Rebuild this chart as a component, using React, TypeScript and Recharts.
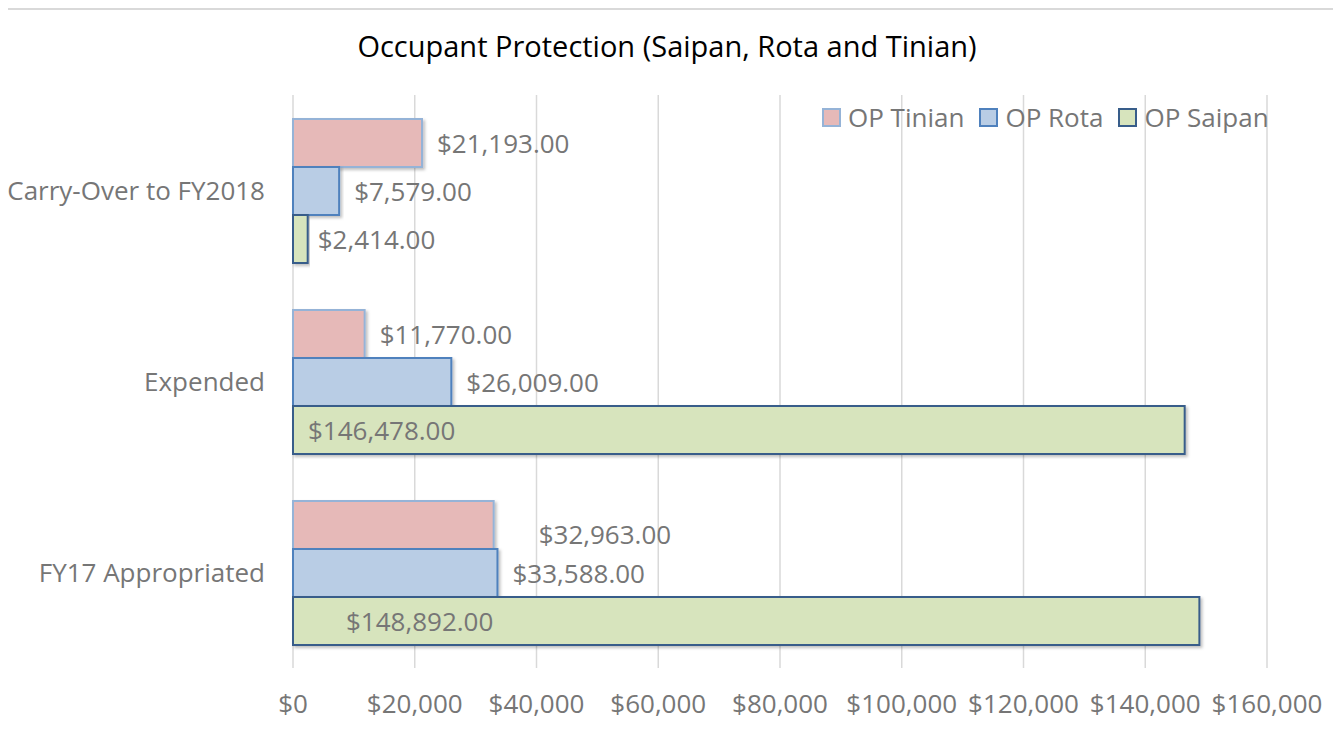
import { Bar, BarChart, CartesianGrid, LabelList, Legend, XAxis, YAxis } from "recharts";

const CATEGORIES = ["Carry-Over to FY2018", "Expended", "FY17 Appropriated"];
const OP_TINIAN = [21193, 11770, 32963];
const OP_ROTA = [7579, 26009, 33588];
const OP_SAIPAN = [2414, 146478, 148892];
const X_TICKS = [0, 20000, 40000, 60000, 80000, 100000, 120000, 140000, 160000];

const SERIES = [
  { key: "tinian", name: "OP Tinian", fill: "#E6B9B8", stroke: "#95B3D7" },
  { key: "rota", name: "OP Rota", fill: "#B9CDE5", stroke: "#4F81BD" },
  { key: "saipan", name: "OP Saipan", fill: "#D7E4BD", stroke: "#385D8A" },
];

const data = CATEGORIES.map((name, i) => ({
  name,
  tinian: OP_TINIAN[i],
  rota: OP_ROTA[i],
  saipan: OP_SAIPAN[i],
}));

const FONT = "'Open Sans', sans-serif";
const GREY = "#767676";

const money = (v: number) =>
  "$" + v.toLocaleString("en-US", { minimumFractionDigits: 2, maximumFractionDigits: 2 });

// labels sit right of the bar, except the long Saipan bars which get them inside
const makeLabel = (series: string) => (props: any) => {
  const x = Number(props.x);
  const y = Number(props.y);
  const w = Number(props.width);
  const h = Number(props.height);
  const v = Number(props.value);
  let tx = x + w + 15;
  let dy = 0;
  if (series === "saipan" && v > 100000) tx = x + (props.index === 2 ? 53 : 15);
  if (series === "saipan" && v < 100000) tx = x + w + 10;
  if (series === "tinian" && props.index === 2) {
    tx = x + w + 45;
    dy = 9;
  }
  return (
    <text x={tx} y={y + h / 2 + dy} dominantBaseline="central" fontSize={26} fill={GREY} fontFamily={FONT}>
      {money(v)}
    </text>
  );
};

function LegendBox() {
  return (
    <div style={{ display: "flex", alignItems: "center", fontFamily: FONT, fontSize: 26, color: GREY }}>
      {SERIES.map((s, i) => (
        <div key={s.key} style={{ display: "flex", alignItems: "center", marginLeft: i === 0 ? 0 : 15 }}>
          <span
            style={{
              display: "inline-block",
              width: 15,
              height: 15,
              background: s.fill,
              border: `2px solid ${s.stroke}`,
              marginRight: 7,
            }}
          />
          <span>{s.name}</span>
        </div>
      ))}
    </div>
  );
}

export default function App() {
  return (
    <div
      style={{
        position: "relative",
        width: 1341,
        height: 740,
        margin: -8,
        overflow: "hidden",
        background: "#fff",
        fontFamily: FONT,
      }}
    >
      <div
        style={{
          position: "absolute",
          left: 6,
          top: 8,
          width: 1400,
          height: 800,
          border: "2px solid #d9d9d9",
        }}
      />
      <div
        style={{
          position: "absolute",
          top: 26,
          left: 0,
          width: 1334,
          textAlign: "center",
          fontSize: 29,
          color: "#000",
        }}
      >
        Occupant Protection (Saipan, Rota and Tinian)
      </div>
      <div style={{ position: "absolute", left: 0, top: 0 }}>
        <BarChart
          width={1341}
          height={740}
          data={data}
          layout="vertical"
          margin={{ top: 95, right: 74, bottom: 0, left: 0 }}
          barCategoryGap="12.5%"
          barGap={0}
        >
          <defs>
            <filter id="barShadow" x="-5%" y="-20%" width="115%" height="150%">
              <feDropShadow dx="2" dy="2" stdDeviation="1.5" floodColor="#000" floodOpacity="0.25" />
            </filter>
          </defs>
          <CartesianGrid horizontal={false} stroke="#d9d9d9" strokeWidth={1.5} />
          <XAxis
            type="number"
            domain={[0, 160000]}
            ticks={X_TICKS}
            height={72}
            axisLine={false}
            tickLine={false}
            tickSize={0}
            tickMargin={27}
            tickFormatter={(v: number) => "$" + v.toLocaleString("en-US")}
            tick={{ fontSize: 26, fill: GREY, fontFamily: FONT }}
            interval={0}
          />
          <YAxis
            type="category"
            dataKey="name"
            width={293}
            axisLine={false}
            tickLine={false}
            tickSize={0}
            tickMargin={28}
            tick={{ fontSize: 26, fill: GREY, fontFamily: FONT }}
          />
          <Legend
            layout="horizontal"
            verticalAlign="middle"
            align="center"
            wrapperStyle={{ top: 99, left: 822, width: 480 }}
            content={() => <LegendBox />}
          />
          {SERIES.map((s) => (
            <Bar
              key={s.key}
              dataKey={s.key}
              name={s.name}
              fill={s.fill}
              stroke={s.stroke}
              strokeWidth={2}
              filter="url(#barShadow)"
              isAnimationActive={false}
            >
              <LabelList dataKey={s.key} content={makeLabel(s.key)} />
            </Bar>
          ))}
        </BarChart>
      </div>
    </div>
  );
}
